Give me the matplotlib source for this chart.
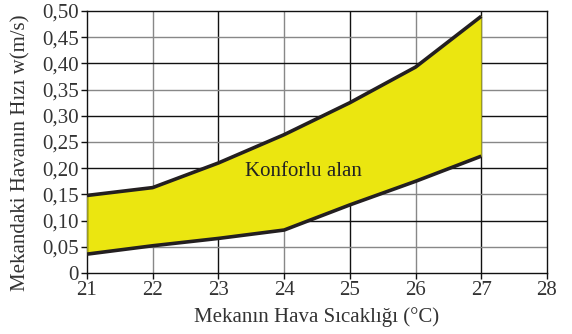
import matplotlib
matplotlib.use("Agg")
import matplotlib.pyplot as plt

temps = [21, 22, 23, 24, 25, 26, 27]
upper = [0.148, 0.163, 0.210, 0.264, 0.325, 0.393, 0.490]
lower = [0.036, 0.052, 0.066, 0.082, 0.130, 0.175, 0.223]
xticks = [21, 22, 23, 24, 25, 26, 27, 28]
yticks = [0, 0.05, 0.10, 0.15, 0.20, 0.25, 0.30, 0.35, 0.40, 0.45, 0.50]
ylabels = ["0", "0,05", "0,10", "0,15", "0,20", "0,25", "0,30", "0,35", "0,40", "0,45", "0,50"]

plt.rcParams['font.family'] = ['Liberation Serif', 'DejaVu Serif']
tc = '#333333'

fig = plt.figure(figsize=(5.72, 3.34), dpi=100)
ax = fig.add_axes([87/572, 1-273/334, 460/572, 262/334])
ax.set_xlim(21, 28)
ax.set_ylim(0, 0.5)

for x in xticks[1:-1]:
    ax.axvline(x, color='#888888' if x % 2 == 0 else '#111111', lw=1.0, zorder=1)
for y in yticks[1:-1]:
    k = round(y * 100) % 10
    ax.axhline(y, color='#888888' if k == 5 else '#111111', lw=1.0, zorder=1)

ax.fill_between(temps, lower, upper, color='#ebe610', zorder=2, lw=0)
ax.plot([temps[-1], temps[-1]], [lower[-1], upper[-1]], color='#9a9a20', lw=0.8, zorder=3)
ax.plot([temps[0], temps[0]], [lower[0], upper[0]], color='#9a9a20', lw=0.8, zorder=3)
ax.plot(temps, upper, color='#231f20', lw=2.6, zorder=4, solid_capstyle='butt')
ax.plot(temps, lower, color='#231f20', lw=2.6, zorder=4, solid_capstyle='butt')

ax.text(24.3, 0.193, "Konforlu alan", ha='center', va='center', fontsize=15, color='#222222', zorder=5)

ax.set_xticks(xticks)
ax.set_xticklabels([str(x) for x in xticks], fontsize=15, color=tc)
ax.set_yticks(yticks)
ax.set_yticklabels(ylabels, fontsize=15, color=tc)
ax.tick_params(axis='both', direction='out', length=4, width=1, color='#111111', pad=2)
for s in ax.spines.values():
    s.set_color('#111111')
    s.set_linewidth(1.0)

ax.set_xlabel("Mekanın Hava Sıcaklığı (°C)", fontsize=15, color=tc, labelpad=5)
ax.set_ylabel("Mekandaki Havanın Hızı w(m/s)", fontsize=15, color=tc)
ax.yaxis.set_label_coords(-0.122, 0.46)

fig.savefig("out.png", dpi=100)
